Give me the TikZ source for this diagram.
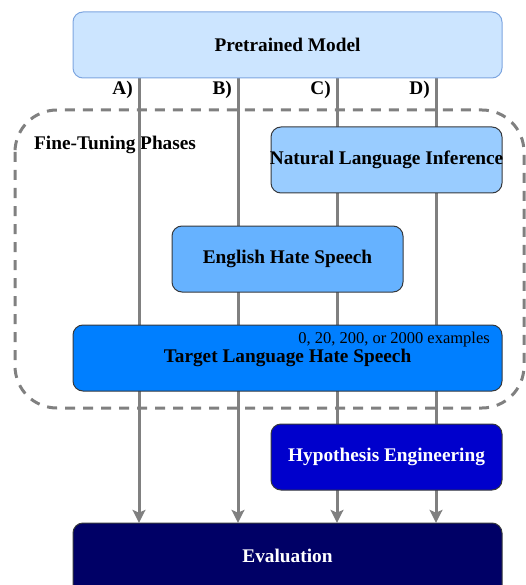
\documentclass[tikz,border=0pt]{standalone}
\usepackage{fontspec}
\setmainfont{Liberation Serif}
\usetikzlibrary{arrows.meta}
\definecolor{pmfill}{HTML}{CCE5FF}
\definecolor{pmline}{HTML}{7EA6E0}
\definecolor{nlifill}{HTML}{99CCFF}
\definecolor{enfill}{HTML}{66B2FF}
\definecolor{tgfill}{HTML}{007FFF}
\definecolor{hyfill}{HTML}{0000CC}
\definecolor{evfill}{HTML}{000066}
\definecolor{conn}{HTML}{808080}
\definecolor{boxline}{HTML}{36393D}
\tikzset{
  x=1pt, y=-1pt,
  bigfont/.style={font=\fontsize{19.3}{23}\selectfont\bfseries},
  box/.style={draw=boxline, line width=1pt, rounded corners=10pt, inner sep=0pt, bigfont},
  conn/.style={draw=conn, line width=3pt, -{Stealth[length=13pt,width=13pt,inset=3pt]}},
  lab/.style={bigfont, anchor=east, inner sep=0pt},
  phase/.style={draw=conn, line width=3pt, dash pattern=on 10pt off 8pt, rounded corners=42pt}
}
\begin{document}
\begin{tikzpicture}
\useasboundingbox (0,0) rectangle (526,585);
% coordinates of the four paths
\coordinate (xa) at (139,0);
\coordinate (xb) at (238,0);
\coordinate (xc) at (337,0);
\coordinate (xd) at (436,0);
% fine-tuning area
\draw[phase] (15,110) rectangle (524,408);
\node[bigfont, anchor=west, inner sep=0pt] (ftp) at (34,145) {Fine-Tuning Phases};
% box anchors
\node[inner sep=0pt, minimum width=429pt, minimum height=66pt] (pm) at (287.5,45) {};
\node[inner sep=0pt, minimum width=429pt, minimum height=77pt] (ev) at (287.5,561.5) {};
% connectors
\foreach \c in {xa,xb,xc,xd}
  \draw[conn] (pm.south -| \c) -- (ev.north -| \c);
% labels
\node[lab] (la) at (133,90) {A)};
\node[lab] (lb) at (232,90) {B)};
\node[lab] (lc) at (331,90) {C)};
\node[lab] (ld) at (430,90) {D)};
% boxes drawn on top
\node[box, draw=pmline, fill=pmfill, minimum width=429pt, minimum height=66pt] (pmb) at (pm) {Pretrained Model};
\node[box, fill=nlifill, minimum width=231pt, minimum height=66pt] (nli) at (386.5,160) {};
\node[bigfont, inner sep=0pt] (nlit) at (386.5,160) {Natural Language Inference};
\node[box, fill=enfill, minimum width=231pt, minimum height=66pt] (en) at (287.5,259) {English Hate Speech};
\node[box, fill=tgfill, minimum width=429pt, minimum height=66pt] (tg) at (287.5,358) {};
\node[bigfont, inner sep=0pt] (tgt) at (287.5,358) {Target Language Hate Speech};
\node[font=\fontsize{16.5}{19}\selectfont, anchor=east, inner sep=0pt] (tgn) at (490,340) {0, 20, 200, or 2000 examples};
\node[box, fill=hyfill, text=white, minimum width=231pt, minimum height=66pt] (hy) at (386.5,457) {Hypothesis Engineering};
\node[box, fill=evfill, text=white, minimum width=429pt, minimum height=77pt] (evb) at (ev) {};
\node[bigfont, text=white, inner sep=0pt] (evt) at (287.5,556) {Evaluation};
\end{tikzpicture}
\end{document}
